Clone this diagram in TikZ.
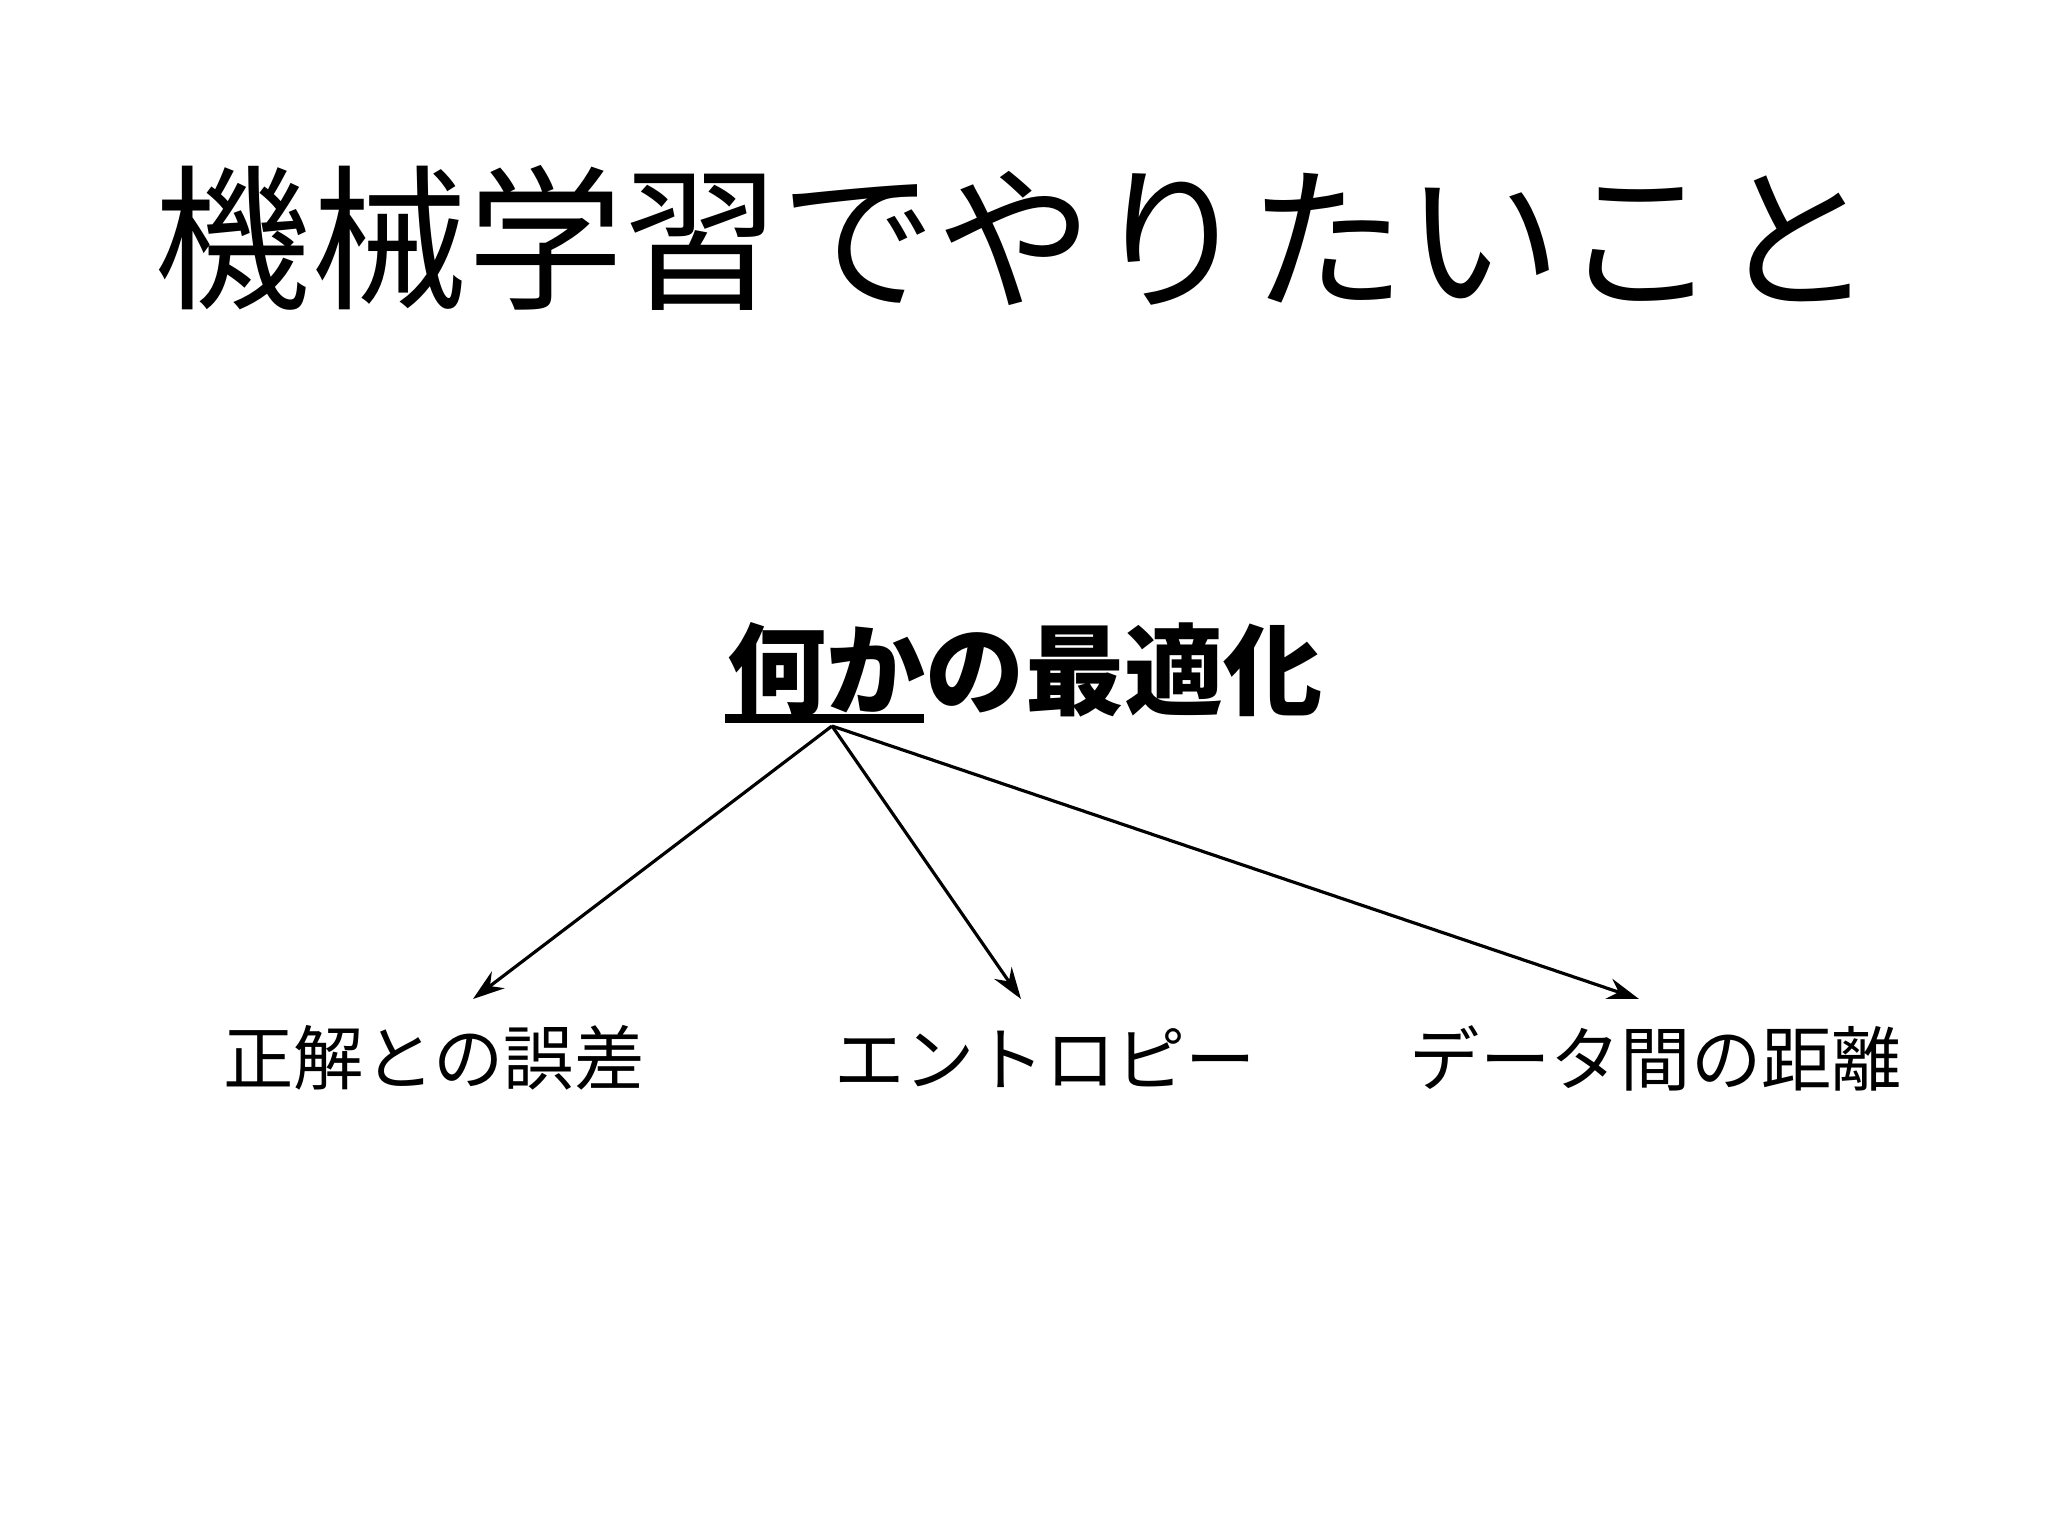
\documentclass[tikz,border=0pt]{standalone}
\usepackage{fontspec}
\newfontfamily\jp{Noto Sans CJK JP}
\usetikzlibrary{arrows.meta}
\tikzset{
  title/.style={font=\jp\fontsize{44.5}{50}\selectfont, inner sep=0pt},
  headline/.style={font=\jp\bfseries\fontsize{28.2}{32}\selectfont, inner sep=0pt},
  leaf/.style={font=\jp\fontsize{20}{24}\selectfont, inner sep=0pt},
  conn/.style={line width=0.9pt, -{Stealth[length=9pt,width=6pt]}}
}
\begin{document}
\begin{tikzpicture}[x=1cm,y=1cm]
\useasboundingbox (0,0) rectangle (20.48,-15.36);
\fill[white] (0,0) rectangle (20.48,-15.36);
\node[title] (t) at (10.15,-2.38) {機械学習でやりたいこと};
\node[headline, anchor=west] (h) at (7.27,-6.70) {何かの最適化};
\draw[line width=2.8pt] (7.25,-7.185) -- (9.24,-7.185);
\coordinate (u) at (8.32,-7.26);
\node[leaf] (l1) at (4.34,-10.58) {正解との誤差};
\node[leaf] (l2) at (10.45,-10.58) {エントロピー};
\node[leaf] (l3) at (16.56,-10.58) {データ間の距離};
\coordinate (e1) at (4.73,-9.99);
\coordinate (e2) at (10.21,-9.99);
\coordinate (e3) at (16.39,-9.99);
\draw[conn] (u) -- (e1);
\draw[conn] (u) -- (e2);
\draw[conn] (u) -- (e3);
\end{tikzpicture}
\end{document}
